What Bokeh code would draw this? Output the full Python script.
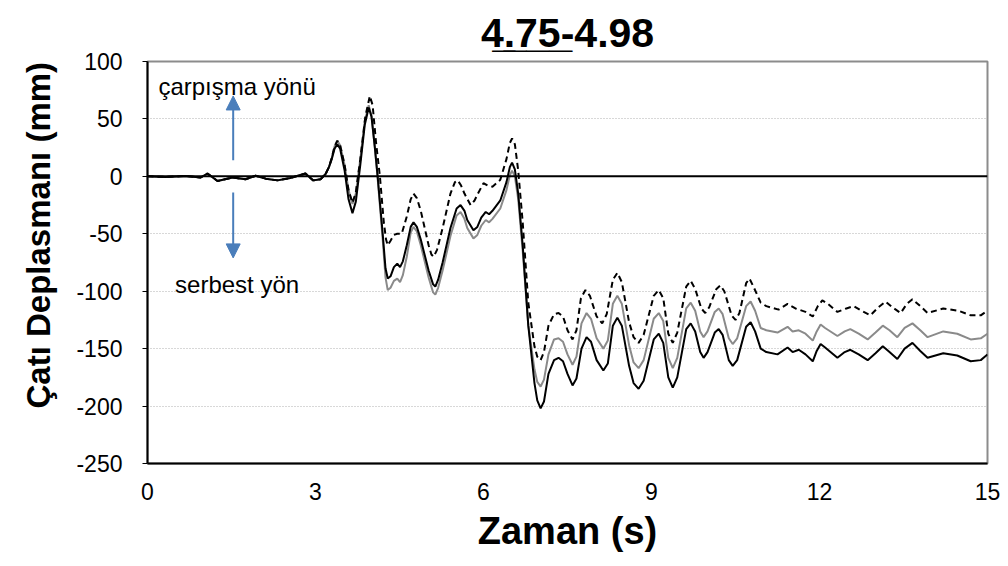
from bokeh.plotting import figure
from bokeh.models import Range1d, FixedTicker, Span, Label, Arrow, NormalHead, Title
from bokeh.embed import file_html
from bokeh.resources import INLINE

# ---- data: (time s, displacement mm) ----
black_pts = [(0.00,0),(0.32,-0.5),(0.68,0.3),(0.95,-1),(1.07,2.5),(1.25,-4),(1.52,-1),(1.75,-2.5),(1.93,0.5),(2.11,-2),(2.32,-3.5),(2.55,-1.5),(2.82,2.5),(2.96,-3.5),(3.09,-2.5),(3.18,2),(3.24,8),(3.29,15),(3.34,24),(3.39,28),(3.44,24),(3.52,5),(3.59,-20),(3.66,-32),(3.72,-22),(3.80,10),(3.88,45),(3.95,60),(4.00,52),(4.06,25),(4.11,0),(4.20,-50),(4.25,-80),(4.29,-89),(4.34,-87),(4.40,-79),(4.46,-76),(4.51,-79),(4.56,-74),(4.63,-60),(4.70,-44),(4.75,-40),(4.81,-44),(4.88,-55),(5.02,-82),(5.10,-94),(5.14,-96),(5.19,-90),(5.27,-75),(5.41,-45),(5.52,-28),(5.59,-25),(5.66,-30),(5.71,-38),(5.82,-47),(5.89,-44),(5.96,-36),(6.04,-31),(6.10,-33),(6.16,-30),(6.30,-21),(6.41,-5),(6.47,8),(6.51,12),(6.56,6),(6.62,-15),(6.70,-60),(6.80,-130),(6.91,-180),(6.96,-195),(7.02,-202),(7.08,-196),(7.16,-172),(7.26,-160),(7.34,-158),(7.42,-161),(7.50,-172),(7.59,-182),(7.66,-176),(7.75,-150),(7.84,-140),(7.92,-144),(8.02,-160),(8.14,-169),(8.22,-163),(8.31,-130),(8.39,-123),(8.47,-130),(8.60,-165),(8.68,-180),(8.77,-185),(8.86,-178),(9.04,-142),(9.13,-137),(9.21,-145),(9.30,-175),(9.38,-184),(9.46,-175),(9.62,-133),(9.70,-128),(9.78,-135),(9.87,-153),(9.93,-158),(10.00,-153),(10.13,-136),(10.20,-133),(10.27,-138),(10.38,-160),(10.45,-165),(10.53,-160),(10.69,-131),(10.77,-127),(10.85,-135),(10.95,-150),(11.05,-153),(11.25,-155),(11.43,-149),(11.52,-153),(11.63,-151),(11.75,-155),(11.88,-161),(11.95,-152),(12.02,-146),(12.10,-149),(12.32,-158),(12.45,-153),(12.55,-151),(12.70,-155),(12.86,-160),(13.00,-154),(13.13,-148),(13.25,-153),(13.39,-159),(13.52,-150),(13.66,-145),(13.80,-152),(13.93,-158),(14.21,-154),(14.46,-156),(14.70,-161),(14.88,-160),(15.00,-155)]

grey_pts = [(0.00,0),(0.32,-0.5),(0.68,0.3),(0.95,-1),(1.07,2.5),(1.25,-4),(1.52,-1),(1.75,-2.5),(1.93,0.5),(2.11,-2),(2.32,-3.5),(2.55,-1.5),(2.82,2.5),(2.96,-3.5),(3.09,-2.5),(3.18,2),(3.24,8),(3.29,16),(3.34,26),(3.39,31),(3.44,27),(3.52,10),(3.59,-12),(3.66,-24),(3.72,-15),(3.80,15),(3.88,48),(3.95,62),(4.00,53),(4.06,25),(4.11,-2),(4.20,-55),(4.25,-88),(4.29,-99),(4.34,-97),(4.40,-91),(4.46,-89),(4.51,-92),(4.56,-86),(4.63,-70),(4.70,-49),(4.75,-44),(4.81,-48),(4.88,-60),(5.02,-88),(5.10,-101),(5.14,-103),(5.19,-97),(5.27,-82),(5.41,-52),(5.52,-34),(5.59,-31),(5.66,-37),(5.71,-45),(5.82,-54),(5.89,-51),(5.96,-43),(6.04,-38),(6.10,-40),(6.16,-37),(6.30,-28),(6.41,-12),(6.47,1),(6.51,5),(6.56,0),(6.62,-20),(6.70,-65),(6.80,-130),(6.91,-168),(6.96,-179),(7.02,-183),(7.08,-177),(7.16,-155),(7.26,-142),(7.34,-141),(7.42,-144),(7.50,-155),(7.59,-164),(7.66,-157),(7.75,-128),(7.84,-119),(7.92,-124),(8.02,-141),(8.14,-150),(8.22,-143),(8.31,-111),(8.39,-104),(8.47,-111),(8.60,-147),(8.68,-162),(8.77,-167),(8.86,-160),(9.04,-124),(9.13,-119),(9.21,-126),(9.30,-158),(9.38,-167),(9.46,-158),(9.62,-115),(9.70,-110),(9.78,-117),(9.87,-135),(9.93,-140),(10.00,-135),(10.13,-118),(10.20,-115),(10.27,-120),(10.38,-141),(10.45,-146),(10.53,-141),(10.69,-113),(10.77,-109),(10.85,-117),(10.95,-132),(11.05,-134),(11.25,-136),(11.43,-131),(11.52,-135),(11.63,-134),(11.75,-137),(11.88,-143),(11.95,-135),(12.02,-129),(12.10,-132),(12.32,-139),(12.45,-135),(12.55,-133),(12.70,-137),(12.86,-142),(13.00,-136),(13.13,-130),(13.25,-134),(13.39,-140),(13.52,-132),(13.66,-128),(13.80,-134),(13.93,-140),(14.21,-135),(14.46,-137),(14.70,-142),(14.88,-141),(15.00,-137)]

dash_pts = [(0.00,0),(0.32,-0.5),(0.68,0.3),(0.95,-1),(1.07,2.5),(1.25,-4),(1.52,-1),(1.75,-2.5),(1.93,0.5),(2.11,-2),(2.32,-3.5),(2.55,-1.5),(2.82,2.5),(2.96,-3.5),(3.09,-2.5),(3.18,2),(3.24,8),(3.29,16),(3.34,26),(3.39,31),(3.44,27),(3.52,10),(3.59,-12),(3.66,-23),(3.72,-14),(3.80,15),(3.89,52),(3.97,70),(4.02,62),(4.08,30),(4.15,0),(4.22,-40),(4.26,-55),(4.29,-60),(4.34,-56),(4.40,-51),(4.46,-50),(4.54,-50),(4.63,-35),(4.70,-20),(4.75,-15),(4.81,-19),(4.88,-30),(5.02,-60),(5.07,-68),(5.11,-70),(5.17,-64),(5.27,-45),(5.41,-15),(5.49,-5),(5.54,-3.5),(5.60,-8),(5.66,-15),(5.77,-25),(5.84,-21),(5.90,-15),(6.00,-6),(6.08,-8),(6.16,-9),(6.30,-3),(6.41,15),(6.47,29),(6.51,33),(6.56,28),(6.62,5),(6.70,-40),(6.80,-110),(6.91,-148),(6.96,-157),(7.02,-160),(7.08,-153),(7.16,-130),(7.26,-120),(7.34,-119),(7.42,-122),(7.50,-134),(7.59,-142),(7.66,-134),(7.74,-106),(7.82,-99),(7.90,-104),(8.02,-122),(8.12,-128),(8.20,-120),(8.31,-90),(8.39,-84),(8.47,-92),(8.60,-127),(8.68,-140),(8.77,-145),(8.86,-138),(9.04,-104),(9.13,-99),(9.21,-106),(9.30,-137),(9.38,-145),(9.46,-136),(9.62,-96),(9.70,-91),(9.78,-98),(9.89,-115),(9.96,-119),(10.03,-114),(10.16,-98),(10.23,-95),(10.30,-100),(10.43,-121),(10.50,-125),(10.57,-119),(10.69,-93),(10.75,-89),(10.83,-97),(10.95,-110),(11.05,-113),(11.27,-116),(11.43,-111),(11.57,-115),(11.75,-118),(11.88,-122),(11.97,-113),(12.05,-108),(12.15,-111),(12.32,-118),(12.48,-115),(12.61,-113),(12.75,-117),(12.91,-121),(13.05,-114),(13.18,-109),(13.30,-114),(13.45,-119),(13.56,-111),(13.66,-107),(13.80,-113),(13.93,-119),(14.21,-115),(14.48,-117),(14.70,-121),(14.88,-121),(15.00,-117)]

t_black = [a for a, b in black_pts]
v_black = [b for a, b in black_pts]
t_grey = [a for a, b in grey_pts]
v_grey = [b for a, b in grey_pts]
t_dash = [a for a, b in dash_pts]
v_dash = [b for a, b in dash_pts]

y_ticks = [-250, -200, -150, -100, -50, 0, 50, 100]
x_ticks = [0, 3, 6, 9, 12, 15]
title_text = "4\u0332.\u03327\u03325\u0332-4.98"
x_title = "Zaman (s)"
y_title = "Çatı Deplasmanı (mm)"
note_up = "çarpışma yönü"
note_down = "serbest yön"

FONT = "Liberation Sans"

p = figure(width=1008, height=566, output_backend="svg", toolbar_location=None,
           x_range=Range1d(0, 15), y_range=Range1d(-250, 100),
           min_border_left=147, min_border_right=21, min_border_top=61, min_border_bottom=103)
p.background_fill_color = "white"
p.border_fill_color = "white"
p.outline_line_color = "#8c8c8c"
p.outline_line_width = 2

p.title.text = title_text
p.title.text_font = FONT
p.title.text_font_size = "41px"
p.title.text_font_style = "bold"
p.title.align = "center"
p.title.text_color = "black"
p.title.standoff = 12

p.xgrid.visible = False
p.ygrid.ticker = FixedTicker(ticks=[t for t in y_ticks if t not in (0, -250, 100)])
p.ygrid.grid_line_color = "#b0b0b0"
p.ygrid.grid_line_dash = "1 2"
p.ygrid.grid_line_width = 1

for ax in (p.xaxis[0], p.yaxis[0]):
    ax.axis_line_color = "black"
    ax.axis_line_width = 2
    ax.major_tick_line_color = "black"
    ax.minor_tick_line_color = None
    ax.major_tick_in = 0
    ax.major_label_text_font = FONT
    ax.major_label_text_font_size = "23px"
    ax.major_label_text_color = "black"
    ax.axis_label_text_font = FONT
    ax.axis_label_text_font_style = "bold"
    ax.axis_label_text_color = "black"
p.xaxis.ticker = FixedTicker(ticks=x_ticks)
p.yaxis.ticker = FixedTicker(ticks=y_ticks)
p.xaxis.major_label_overrides = {t: str(t) for t in x_ticks}
p.yaxis.major_label_overrides = {t: str(t) for t in y_ticks}
p.xaxis.major_tick_out = 0
p.yaxis.major_tick_out = 5
p.xaxis.major_label_standoff = 19
p.yaxis.major_label_standoff = 20
p.xaxis.axis_label = x_title
p.xaxis.axis_label_text_font_size = "38px"
p.xaxis.axis_label_standoff = 7

p.add_layout(Title(text=y_title, text_font=FONT, text_font_size="33px", text_font_style="bold",
                   text_color="black", align="left", offset=55, standoff=34), "left")

p.add_layout(Span(location=0, dimension="width", line_color="black", line_width=2))

p.line(t_grey, v_grey, line_color="#8a8a8a", line_width=2)
p.line(t_dash, v_dash, line_color="black", line_width=2, line_dash="6 4")
p.line(t_black, v_black, line_color="black", line_width=2)

blue = "#4a7ebb"
p.add_layout(Arrow(end=NormalHead(size=14, fill_color=blue, line_color=blue),
                   x_start=1.53, y_start=14, x_end=1.53, y_end=70,
                   line_color=blue, line_width=2))
p.add_layout(Arrow(end=NormalHead(size=14, fill_color=blue, line_color=blue),
                   x_start=1.53, y_start=-14, x_end=1.53, y_end=-71,
                   line_color=blue, line_width=2))

p.add_layout(Label(x=1.60, y=78, text=note_up, text_font=FONT, text_font_size="24px",
                   text_color="black", text_align="center", text_baseline="alphabetic"))
p.add_layout(Label(x=1.60, y=-94, text=note_down, text_font=FONT, text_font_size="24px",
                   text_color="black", text_align="center", text_baseline="alphabetic"))

open("out.html", "w").write(file_html(p, INLINE))
